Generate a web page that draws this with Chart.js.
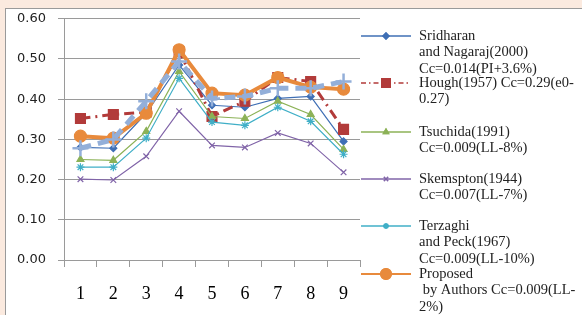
<!DOCTYPE html>
<html>
  <head>
    <title>Cc comparison</title>
    <script src="https://cdn.jsdelivr.net/npm/chart.js@4.4.0/dist/chart.umd.min.js"></script>
    <style>
      html,body{
        width: 100%;
        height: 100%;
        margin: 0;
        padding: 0;
        background: #fbeadf;
        overflow: hidden;
      }
      #panel{
        position: absolute;
        left: 5px;
        top: 8px;
        width: 577px;
        height: 307px;
        background: #fff;
        border-left: 1px solid #9a9a9a;
        border-top: 1px solid #9a9a9a;
        box-sizing: border-box;
        overflow: hidden;
      }
      #myChart{
        position: absolute;
        left: 0;
        top: -10px;
      }
    </style>
  </head>
  <body>
    <div id="panel">
      <canvas id="myChart" width="576" height="316"></canvas>
    </div>

    <script>
      const categorias = ['1', '2', '3', '4', '5', '6', '7', '8', '9']

      const sridharan = [0.280, 0.278, 0.365, 0.485, 0.385, 0.380, 0.402, 0.407, 0.295]
      const hough     = [0.352, 0.362, 0.368, 0.518, 0.357, 0.395, 0.454, 0.444, 0.325]
      const tsuchida  = [0.250, 0.248, 0.320, 0.469, 0.357, 0.352, 0.395, 0.362, 0.275]
      const skempton  = [0.201, 0.199, 0.258, 0.370, 0.285, 0.280, 0.316, 0.290, 0.218]
      const terzaghi  = [0.231, 0.231, 0.303, 0.452, 0.343, 0.335, 0.380, 0.345, 0.263]
      const proposto  = [0.308, 0.303, 0.365, 0.523, 0.415, 0.410, 0.454, 0.430, 0.425]
      const medido    = [0.278, 0.300, 0.395, 0.494, 0.402, 0.407, 0.427, 0.427, 0.444]

      const yTicks = [0, 0.1, 0.2, 0.3, 0.4, 0.5, 0.6]

      const legendas = [
        ['Sridharan', 'and Nagaraj(2000)', 'Cc=0.014(PI+3.6%)'],
        ['Hough(1957) Cc=0.29(e0-', '0.27)'],
        ['Tsuchida(1991)', 'Cc=0.009(LL-8%)'],
        ['Skemspton(1944)', 'Cc=0.007(LL-7%)'],
        ['Terzaghi', 'and Peck(1967)', 'Cc=0.009(LL-10%)'],
        ['Proposed', ' by Authors Cc=0.009(LL-', '2%)']
      ]
      // y (canvas) da primeira linha de cada item da legenda
      const legendaY = [37, 84, 133, 180, 227, 275]

      const estilos = [
        {cor: '#3f6fb5', largura: 1.2, ponto: 'rectRot', raio: 3.5, dash: []},
        {cor: '#b23b3a', largura: 3, ponto: 'rect', raio: 7, dash: [10, 5, 2, 5]},
        {cor: '#8cb257', largura: 1.2, ponto: 'triangle', raio: 4, dash: []},
        {cor: '#8064a8', largura: 1.2, ponto: 'crossRot', raio: 4, dash: []},
        {cor: '#40afc7', largura: 1.2, ponto: 'star', raio: 4, dash: []},
        {cor: '#e88a3c', largura: 4, ponto: 'circle', raio: 6, dash: []},
        {cor: '#93afd9', largura: 5, ponto: 'cross', raio: 8, dash: [11, 7]}
      ]

      const series = [sridharan, hough, tsuchida, skempton, terzaghi, proposto, medido]

      let dataSetList = []
      series.forEach((serie, index) => {
        const e = estilos[index]
        dataSetList.push({
          label: index < legendas.length ? legendas[index].join(' ') : 'medido',
          data: serie,
          borderColor: e.cor,
          backgroundColor: e.cor,
          borderWidth: e.largura,
          borderDash: e.dash,
          pointStyle: e.ponto,
          pointRadius: e.raio,
          pointHoverRadius: e.raio,
          pointBorderColor: e.cor,
          pointBackgroundColor: e.cor,
          pointBorderWidth: e.ponto === 'cross' ? 2.5 : 1.2,
          tension: 0,
          fill: false,
          order: series.length - index // como no Excel: a ultima serie fica por cima
        })
      })

      // legenda desenhada a mao porque os textos tem varias linhas
      const legendaPlugin = {
        id: 'legendaManual',
        afterDraw(chart) {
          const ctx = chart.ctx
          ctx.save()
          legendas.forEach((linhas, i) => {
            const e = estilos[i]
            const y = legendaY[i]
            ctx.strokeStyle = e.cor
            ctx.lineWidth = i === 5 ? 2 : 1.3
            ctx.setLineDash(i === 1 ? [5, 3, 1.5, 3] : [])
            ctx.beginPath()
            ctx.moveTo(355, y)
            ctx.lineTo(405, y)
            ctx.stroke()
            ctx.setLineDash([])
            Chart.helpers.drawPoint(ctx, {
              pointStyle: e.ponto,
              radius: i === 1 ? 6 : (i === 5 ? 5 : 3),
              borderWidth: 1.2,
              rotation: 0
            }, 380, y)
            ctx.fillStyle = e.cor
            ctx.fill()
            ctx.stroke()

            ctx.fillStyle = '#222'
            ctx.font = '14.5px "Liberation Serif"'
            ctx.textBaseline = 'middle'
            ctx.textAlign = 'left'
            linhas.forEach((t, k) => {
              ctx.fillText(t, 413, y + k * 16.5)
            })
          })
          ctx.restore()
        }
      }

      const ctx = document.getElementById('myChart').getContext('2d')
      const myChart = new Chart(ctx, {
        type: 'line',
        data: {
          labels: categorias,
          datasets: dataSetList
        },
        options: {
          responsive: false,
          animation: false,
          layout: {
            padding: {left: 0, right: 222, top: 0, bottom: 0}
          },
          plugins: {
            legend: {display: false},
            tooltip: {enabled: false}
          },
          scales: {
            x: {
              offset: true,
              grid: {
                offset: true,
                drawOnChartArea: false,
                color: '#9a9a9a',
                tickLength: 7
              },
              border: {color: '#9a9a9a'},
              ticks: {
                color: '#000',
                padding: 16,
                font: {family: '"Liberation Serif"', size: 18}
              },
              afterFit(scale) { scale.height = 55 }
            },
            y: {
              min: 0,
              max: 0.6,
              afterBuildTicks(scale) { scale.ticks = yTicks.map(v => ({value: v})) },
              grid: {
                color: '#9a9a9a',
                tickLength: 6
              },
              border: {color: '#9a9a9a'},
              ticks: {
                color: '#222',
                padding: 12,
                font: {family: '"DejaVu Sans"', size: 13},
                callback: v => v.toFixed(2)
              },
              afterFit(scale) { scale.width = 58 }
            }
          }
        },
        plugins: [legendaPlugin]
      })
    </script>
  </body>
</html>
